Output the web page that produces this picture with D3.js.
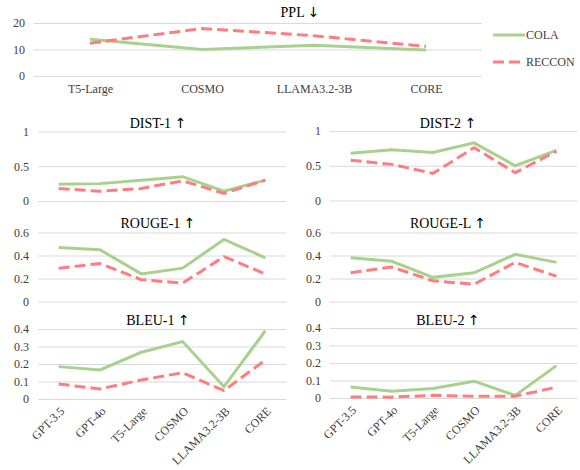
<!DOCTYPE html>
<html>
<head>
<meta charset="utf-8">
<script src="https://cdn.jsdelivr.net/npm/d3@7"></script>
<style>
  body { margin: 0; background: #fff; }
  .tick line { stroke: #d9d9d9; }
  .tick text { fill: #404040; }
</style>
</head>
<body>
<script>
// data
const models = ["GPT-3.5", "GPT-4o", "T5-Large", "COSMO", "LLAMA3.2-3B", "CORE"]
const pplModels = ["T5-Large", "COSMO", "LLAMA3.2-3B", "CORE"]

const pplCola = [13.9, 10, 11.6, 9.8]
const pplReccon = [12.4, 17.9, 15.2, 11.2]

const dist1Cola = [0.24, 0.25, 0.30, 0.35, 0.14, 0.30]
const dist1Reccon = [0.18, 0.14, 0.18, 0.29, 0.11, 0.30]

const dist2Cola = [0.68, 0.73, 0.69, 0.83, 0.50, 0.72]
const dist2Reccon = [0.58, 0.52, 0.39, 0.76, 0.40, 0.71]

const rouge1Cola = [0.47, 0.45, 0.24, 0.29, 0.54, 0.38]
const rouge1Reccon = [0.29, 0.33, 0.19, 0.16, 0.39, 0.24]

const rougeLCola = [0.38, 0.35, 0.21, 0.25, 0.41, 0.34]
const rougeLReccon = [0.25, 0.30, 0.18, 0.15, 0.34, 0.22]

const bleu1Cola = [0.185, 0.166, 0.267, 0.328, 0.07, 0.39]
const bleu1Reccon = [0.086, 0.057, 0.109, 0.15, 0.048, 0.223]

const bleu2Cola = [0.063, 0.038, 0.054, 0.096, 0.015, 0.185]
const bleu2Reccon = [0.006, 0.005, 0.015, 0.01, 0.01, 0.062]

const seriesNames = ["COLA", "RECCON"]

const ticks20 = [0, 10, 20]
const ticks1 = [0, 0.5, 1]
const ticks06 = [0, 0.2, 0.4, 0.6]
const ticks04 = [0, 0.1, 0.2, 0.3, 0.4]

const green = "#a9d18e"
const red = "#ff7c80"
const serif = "'Liberation Serif', 'Times New Roman', serif"

const width = 580
const height = 470

const svg = d3.select("body").append("svg")
    .attr("width", width)
    .attr("height", height)

function drawPanel(p) {
    const x = d3.scalePoint()
        .domain(p.cats)
        .range([p.x0, p.x1])
        .padding(0.5)
    const y = d3.scaleLinear()
        .domain([0, p.max])
        .range([p.yb, p.yt])

    const g = svg.append("g")

    // y axis as gridlines
    g.append("g")
        .attr("transform", "translate(" + p.x0 + ",0)")
        .call(d3.axisLeft(y).tickValues(p.ticks).tickSize(-(p.x1 - p.x0)).tickPadding(9)
            .tickFormat(d3.format("")))
        .call(a => a.select(".domain").remove())
        .call(a => a.selectAll("text").style("font-size", "12px").style("font-family", serif))

    // x axis labels
    if (p.showX) {
        const xa = g.append("g")
            .attr("transform", "translate(0," + p.yb + ")")
            .call(d3.axisBottom(x).tickSize(0).tickPadding(8))
        xa.select(".domain").remove()
        xa.selectAll("text").style("font-size", "12px").style("font-family", serif)
        if (p.rotate) {
            xa.selectAll("text")
                .attr("x", 0).attr("y", 0).attr("dy", "0.35em")
                .attr("text-anchor", "end")
                .attr("transform", "translate(3,10) rotate(-45)")
        }
    }

    const line = d3.line()
        .x((d, i) => x(p.cats[i]))
        .y(d => y(d))

    g.append("path")
        .datum(p.cola)
        .attr("fill", "none")
        .attr("stroke", green)
        .attr("stroke-width", 3)
        .attr("d", line)

    g.append("path")
        .datum(p.reccon)
        .attr("fill", "none")
        .attr("stroke", red)
        .attr("stroke-width", 3)
        .attr("stroke-dasharray", "11,5")
        .attr("d", line)

    const t = g.append("text")
        .attr("x", p.tx)
        .attr("y", p.ty)
        .attr("text-anchor", "middle")
        .style("font-family", serif)
        .style("font-size", "14px")
        .attr("fill", "#000")
    t.append("tspan").text(p.title + " ")
    t.append("tspan")
        .style("font-family", "'DejaVu Sans'")
        .style("font-size", "14px")
        .text(p.arrow)
}

drawPanel({ title: "PPL", arrow: "↓", cats: pplModels, cola: pplCola, reccon: pplReccon,
    x0: 34, x1: 482, yt: 23, yb: 76, max: 20, ticks: ticks20, tx: 300, ty: 17, showX: true })

drawPanel({ title: "DIST-1", arrow: "↑", cats: models, cola: dist1Cola, reccon: dist1Reccon,
    x0: 38, x1: 286, yt: 131.5, yb: 201, max: 1, ticks: ticks1, tx: 158, ty: 128 })
drawPanel({ title: "DIST-2", arrow: "↑", cats: models, cola: dist2Cola, reccon: dist2Reccon,
    x0: 330, x1: 577, yt: 131, yb: 200.5, max: 1, ticks: ticks1, tx: 448, ty: 128 })

drawPanel({ title: "ROUGE-1", arrow: "↑", cats: models, cola: rouge1Cola, reccon: rouge1Reccon,
    x0: 38, x1: 286, yt: 232.5, yb: 301.5, max: 0.6, ticks: ticks06, tx: 158, ty: 228 })
drawPanel({ title: "ROUGE-L", arrow: "↑", cats: models, cola: rougeLCola, reccon: rougeLReccon,
    x0: 330, x1: 577, yt: 232.5, yb: 301.5, max: 0.6, ticks: ticks06, tx: 448, ty: 228 })

drawPanel({ title: "BLEU-1", arrow: "↑", cats: models, cola: bleu1Cola, reccon: bleu1Reccon,
    x0: 38, x1: 286, yt: 329, yb: 399, max: 0.4, ticks: ticks04, tx: 158, ty: 325, showX: true, rotate: true })
drawPanel({ title: "BLEU-2", arrow: "↑", cats: models, cola: bleu2Cola, reccon: bleu2Reccon,
    x0: 330, x1: 577, yt: 328, yb: 398, max: 0.4, ticks: ticks04, tx: 448, ty: 325, showX: true, rotate: true })

// legend
const legend = svg.append("g")
legend.selectAll("g")
    .data(seriesNames)
    .enter()
    .append("g")
    .attr("transform", (d, i) => "translate(493," + (35 + i * 27) + ")")
    .each(function (d, i) {
        const lg = d3.select(this)
        lg.append("line")
            .attr("x1", 0).attr("x2", 32)
            .attr("stroke", i === 0 ? green : red)
            .attr("stroke-width", 3)
            .attr("stroke-dasharray", i === 0 ? null : "11,5")
        lg.append("text")
            .attr("x", 33)
            .attr("dy", "0.35em")
            .style("font-family", serif)
            .style("font-size", "12px")
            .attr("fill", "#404040")
            .text(d)
    })
</script>
</body>
</html>
